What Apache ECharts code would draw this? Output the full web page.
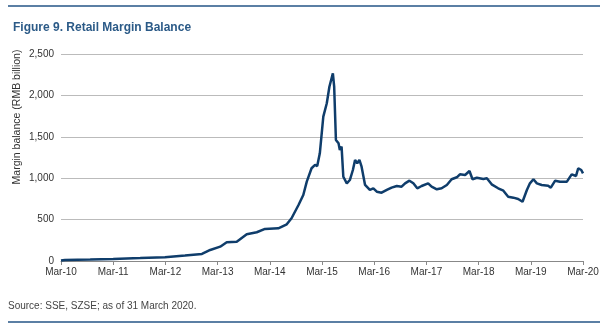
<!DOCTYPE html>
<html>
<head>
<meta charset="utf-8">
<script src="https://cdn.jsdelivr.net/npm/echarts@6/dist/echarts.min.js"></script>
<style>html,body{margin:0;padding:0;background:#fff}#c{width:607px;height:331px}</style>
</head>
<body>
<div id="c"></div>
<script>
// months since Mar-10
const months = [0,0.9,6.7,12,18.2,23.9,28.5,32.4,34.3,36.6,38.1,40.4,42.7,45.0,46.9,49.96,51.9,53.0,54.6,55.7,56.5,57.6,58.4,58.9,59.5,60.3,61.1,61.7,62.5,62.8,63.2,63.8,64.1,64.5,64.9,65.7,66.4,67.1,67.6,68.1,68.6,69.1,69.9,71.0,71.8,72.6,73.7,74.9,76.0,77.2,78.3,79.1,80.1,81.0,81.9,82.9,84.4,85.2,86.4,87.5,88.7,89.8,91.0,91.7,92.9,93.9,94.6,95.6,97.1,97.9,99.0,100.5,101.7,102.8,104.0,105.1,106.1,107.1,107.8,108.6,109.4,110.5,112.0,112.6,113.6,114.7,116.3,117.4,118.4,118.9,119.6,120];
const balance = [5,12,18,25,35,45,65,85,133,173,226,233,322,347,387,395,443,516,676,797,958,1120,1160,1147,1300,1743,1905,2105,2267,2105,1462,1422,1341,1381,1018,938,978,1099,1220,1180,1220,1139,918,858,878,837,825,858,886,906,898,938,970,938,878,906,938,898,866,878,918,987,1011,1047,1039,1087,987,1006,991,999,926,878,849,777,765,749,716,858,938,987,938,918,910,886,970,958,958,1047,1027,1120,1099,1059];
const xTickLabels = ['Mar-10','Mar-11','Mar-12','Mar-13','Mar-14','Mar-15','Mar-16','Mar-17','Mar-18','Mar-19','Mar-20'];
const titleText = 'Figure 9. Retail Margin Balance';
const yAxisTitle = 'Margin balance (RMB billion)';
const sourceText = 'Source: SSE, SZSE; as of 31 March 2020.';

const data = months.map((m, i) => [m, balance[i]]);
const chart = echarts.init(document.getElementById('c'));
const font = 'Liberation Sans, Arial, sans-serif';
chart.setOption({
  animation: false,
  title: {
    text: titleText, left: 8, top: 17,
    textStyle: {fontFamily: font, fontSize: 12, fontWeight: 'bold', color: '#2b5a87'}
  },
  grid: {left: 61, right: 24, top: 54, bottom: 70},
  xAxis: {
    type: 'value', min: 0, max: 120, interval: 12,
    axisLine: {show: true, lineStyle: {color: '#888', width: 1}},
    axisTick: {show: true, length: 4, lineStyle: {color: '#888'}},
    splitLine: {show: false},
    axisLabel: {
      fontFamily: font, fontSize: 10, color: '#333', margin: 6,
      formatter: v => xTickLabels[Math.round(v / 12)] || ''
    }
  },
  yAxis: {
    type: 'value', min: 0, max: 2500, interval: 500,
    axisLine: {show: false}, axisTick: {show: false},
    splitLine: {lineStyle: {color: '#bbb', width: 1}},
    axisLabel: {
      fontFamily: font, fontSize: 10, color: '#333', margin: 7,
      formatter: v => v.toLocaleString('en-US')
    }
  },
  series: [{
    type: 'line', data: data, showSymbol: false, smooth: false,
    lineStyle: {color: '#0f3d6b', width: 2.5}, z: 3
  }],
  graphic: [
    {type: 'rect', shape: {x: 8, y: 5, width: 592, height: 2}, style: {fill: '#5b7fa4'}},
    {type: 'rect', shape: {x: 8, y: 321, width: 592, height: 2}, style: {fill: '#5b7fa4'}},
    {type: 'text', x: 17, y: 117, rotation: Math.PI / 2,
      style: {text: yAxisTitle, fontFamily: font, fontSize: 10.5, fill: '#333', align: 'center', verticalAlign: 'middle'}},
    {type: 'text', left: 8, top: 301, style: {text: sourceText, fontFamily: font, fontSize: 10, fill: '#444'}}
  ]
});
</script>
</body>
</html>
